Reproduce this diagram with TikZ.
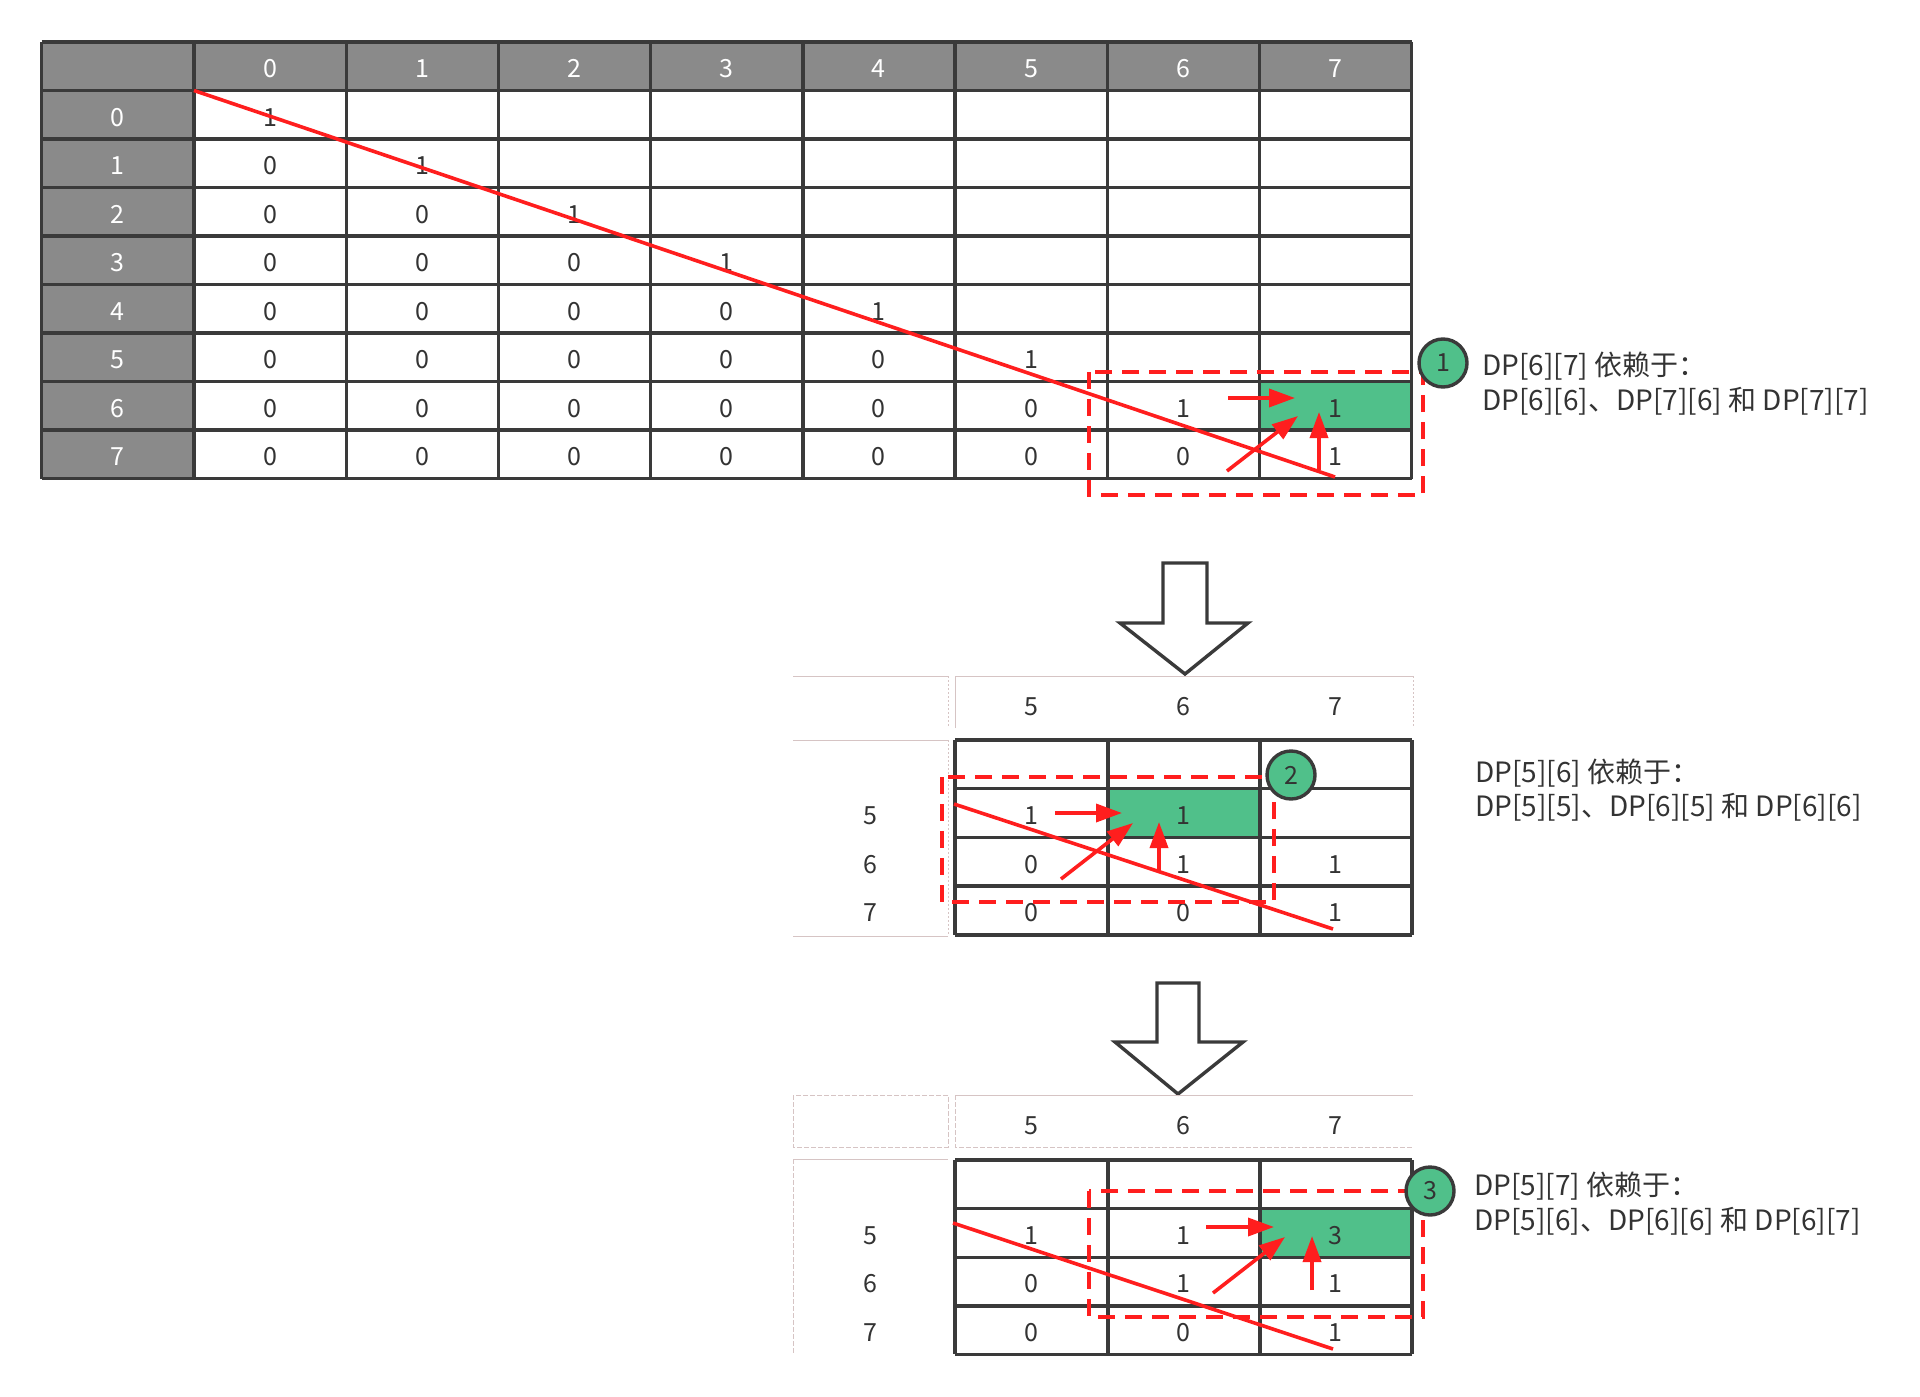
\documentclass[tikz,border=0pt]{standalone}
\usepackage{fontspec}
\setmainfont{Noto Sans CJK SC}
\usetikzlibrary{arrows.meta}
\definecolor{hdr}{RGB}{138,138,138}
\definecolor{grid}{RGB}{58,58,58}
\definecolor{hot}{RGB}{255,30,30}
\definecolor{mint}{RGB}{80,192,138}
\definecolor{faint}{RGB}{214,196,196}
\definecolor{ink}{RGB}{51,51,51}
\begin{document}
\begin{tikzpicture}[x=0.5pt,y=-0.5pt,
  cellnum/.style={font=\fontsize{12.5}{12.5}\selectfont, text=ink, inner sep=0pt, yshift=-1.2pt},
  hdrnum/.style={cellnum, text=white},
  gridline/.style={draw=grid, line width=1.7pt},
  diag/.style={draw=hot, line width=1.8pt},
  dep/.style={draw=hot, line width=1.8pt, -{Triangle[length=13pt,width=9pt]}},
  zone/.style={draw=hot, line width=1.7pt, dash pattern=on 8.5pt off 5pt},
  badge/.style={circle, draw=grid, line width=1.7pt, fill=mint, minimum size=24pt,
    inner sep=0pt, font=\fontsize{12.5}{12.5}\selectfont, text=ink},
  note/.style={anchor=west, inner sep=0pt, font=\fontsize{14}{17}\selectfont, text=ink},
  bigarrow/.style={draw=grid, line width=1.7pt, fill=white, line join=miter},
  lite/.style={draw=faint, line width=0.5pt},
  litedot/.style={draw=faint, line width=0.5pt, dash pattern=on 1pt off 1pt},
  litedash/.style={draw=faint, line width=0.5pt, dash pattern=on 2.5pt off 1pt}]
\useasboundingbox (0,0) rectangle (1920,1396);

% ---------- full table ----------
\fill[hdr] (41.5,42) rectangle (1411.6,90.5);
\fill[hdr] (41.5,90.5) rectangle (194,478.5);
\fill[mint] (1259.4,381.5) rectangle (1411.6,430);
\foreach \x in {41.5,194,346.2,498.4,650.6,802.8,955,1107.2,1259.4,1411.6}
  \draw[gridline] (\x,42) -- (\x,478.5);
\foreach \y in {42,90.5,139,187.5,236,284.5,333,381.5,430,478.5}
  \draw[gridline] (41.5,\y) -- (1411.6,\y);
\foreach \c in {0,...,7}
  \node[hdrnum] (th\c) at ({194+152.2*\c+76.1},66.25) {\c};
\foreach \r in {0,...,7}
  \node[hdrnum] (tr\r) at (117.75,{90.5+48.5*\r+24.25}) {\r};
\foreach \r in {0,...,7}{
  \foreach \c in {0,...,\r}{
    \node[cellnum] (t\r-\c) at ({194+152.2*\c+76.1},{90.5+48.5*\r+24.25})
      {\ifnum\c=\r\relax 1\else 0\fi};
  }
}
\node[cellnum] (t6-7) at (1335.5,405.75) {1};

\coordinate (d1s) at (194,90.5);
\coordinate (d1e) at (1335,477);
\draw[diag] (d1s) -- (d1e);

\coordinate (a1hs) at (1228,398);  \coordinate (a1he) at (1295,398);
\coordinate (a1ds) at (1227,471);  \coordinate (a1de) at (1298,416);
\coordinate (a1vs) at (1319,470);  \coordinate (a1ve) at (1319,412);
\draw[dep] (a1hs) -- (a1he);
\draw[dep] (a1ds) -- (a1de);
\draw[dep] (a1vs) -- (a1ve);

\draw[zone] (1089,372) rectangle (1423,495);
\node[badge] (b1) at (1443,363) {1};
\node[note] (n1a) at (1482,366) {DP[6][7] 依赖于：};
\node[note] (n1b) at (1482,401) {DP[6][6]、DP[7][6] 和 DP[7][7]};

% ---------- first step arrow ----------
\draw[bigarrow] (1163,563) -- (1207,563) -- (1207,623) -- (1248,623) -- (1185,674)
  -- (1120,623) -- (1163,623) -- cycle;

% ---------- middle excerpt ----------
\draw[lite] (793,676) -- (948,676);
\draw[litedot] (948,676) -- (948,728);
\draw[lite] (955,728) -- (955,676) -- (1413,676);
\draw[litedot] (1413,676) -- (1413,728);
\draw[lite] (793,740) -- (948,740);
\draw[litedot] (948,740) -- (948,936);
\draw[lite] (793,936) -- (948,936);

\fill[mint] (1108,788.7) rectangle (1260,837.4);
\foreach \x in {955,1108,1260,1412}
  \draw[gridline] (\x,740) -- (\x,935);
\foreach \y in {740,788.7,837.4,886.1,935}
  \draw[gridline] (955,\y) -- (1412,\y);
\foreach \c/\t [count=\i] in {0/5,1/6,2/7}
  \node[cellnum] (mh\i) at ({955+152.3*\c+76.2},704) {\t};
\foreach \r/\t [count=\i] in {1/5,2/6,3/7}
  \node[cellnum] (mr\i) at (870.5,{740+48.75*\r+24.4}) {\t};
\foreach \r/\c/\v in {1/0/1,1/1/1,2/0/0,2/1/1,2/2/1,3/0/0,3/1/0,3/2/1}
  \node[cellnum] (m\r-\c) at ({955+152.3*\c+76.2},{740+48.75*\r+24.4}) {\v};

\coordinate (d2s) at (954,804);
\coordinate (d2e) at (1333,929);
\draw[diag] (d2s) -- (d2e);

\coordinate (a2hs) at (1055,813);  \coordinate (a2he) at (1122,813);
\coordinate (a2ds) at (1061,879);  \coordinate (a2de) at (1133,823);
\coordinate (a2vs) at (1159,872);  \coordinate (a2ve) at (1159,822);
\draw[dep] (a2hs) -- (a2he);
\draw[dep] (a2ds) -- (a2de);
\draw[dep] (a2vs) -- (a2ve);

\draw[zone] (942,777) rectangle (1274,902);
\node[badge] (b2) at (1291,775) {2};
\node[note] (n2a) at (1475,773) {DP[5][6] 依赖于：};
\node[note] (n2b) at (1475,807) {DP[5][5]、DP[6][5] 和 DP[6][6]};

% ---------- second step arrow ----------
\draw[bigarrow] (1157,983) -- (1199,983) -- (1199,1042) -- (1243,1042) -- (1178,1094)
  -- (1115,1042) -- (1157,1042) -- cycle;

% ---------- bottom excerpt ----------
\draw[litedash] (793,1095) rectangle (948,1147);
\draw[lite] (955,1095) -- (1413,1095);
\draw[litedash] (955,1095) -- (955,1147) -- (1413,1147);
\draw[lite] (793,1159) -- (948,1159);
\draw[litedash] (793,1159) -- (793,1355);

\fill[mint] (1260,1208.6) rectangle (1412,1257.2);
\foreach \x in {955,1108,1260,1412}
  \draw[gridline] (\x,1160) -- (\x,1354.4);
\foreach \y in {1160,1208.6,1257.2,1305.8,1354.4}
  \draw[gridline] (955,\y) -- (1412,\y);
\foreach \c/\t [count=\i] in {0/5,1/6,2/7}
  \node[cellnum] (bh\i) at ({955+152.3*\c+76.2},1123) {\t};
\foreach \r/\t [count=\i] in {1/5,2/6,3/7}
  \node[cellnum] (br\i) at (870.5,{1160+48.6*\r+24.3}) {\t};
\foreach \r/\c/\v in {1/0/1,1/1/1,1/2/3,2/0/0,2/1/1,2/2/1,3/0/0,3/1/0,3/2/1}
  \node[cellnum] (c\r-\c) at ({955+152.3*\c+76.2},{1160+48.6*\r+24.3}) {\v};

\coordinate (d3s) at (953,1223);
\coordinate (d3e) at (1333,1349);
\draw[diag] (d3s) -- (d3e);

\coordinate (a3hs) at (1206,1227);  \coordinate (a3he) at (1274,1227);
\coordinate (a3ds) at (1213,1293);  \coordinate (a3de) at (1285,1237);
\coordinate (a3vs) at (1312,1290);  \coordinate (a3ve) at (1312,1236);
\draw[dep] (a3hs) -- (a3he);
\draw[dep] (a3ds) -- (a3de);
\draw[dep] (a3vs) -- (a3ve);

\draw[zone] (1089,1191) rectangle (1423,1317);
\node[badge] (b3) at (1430,1191) {3};
\node[note] (n3a) at (1474,1186) {DP[5][7] 依赖于：};
\node[note] (n3b) at (1474,1221) {DP[5][6]、DP[6][6] 和 DP[6][7]};
\end{tikzpicture}
\end{document}
